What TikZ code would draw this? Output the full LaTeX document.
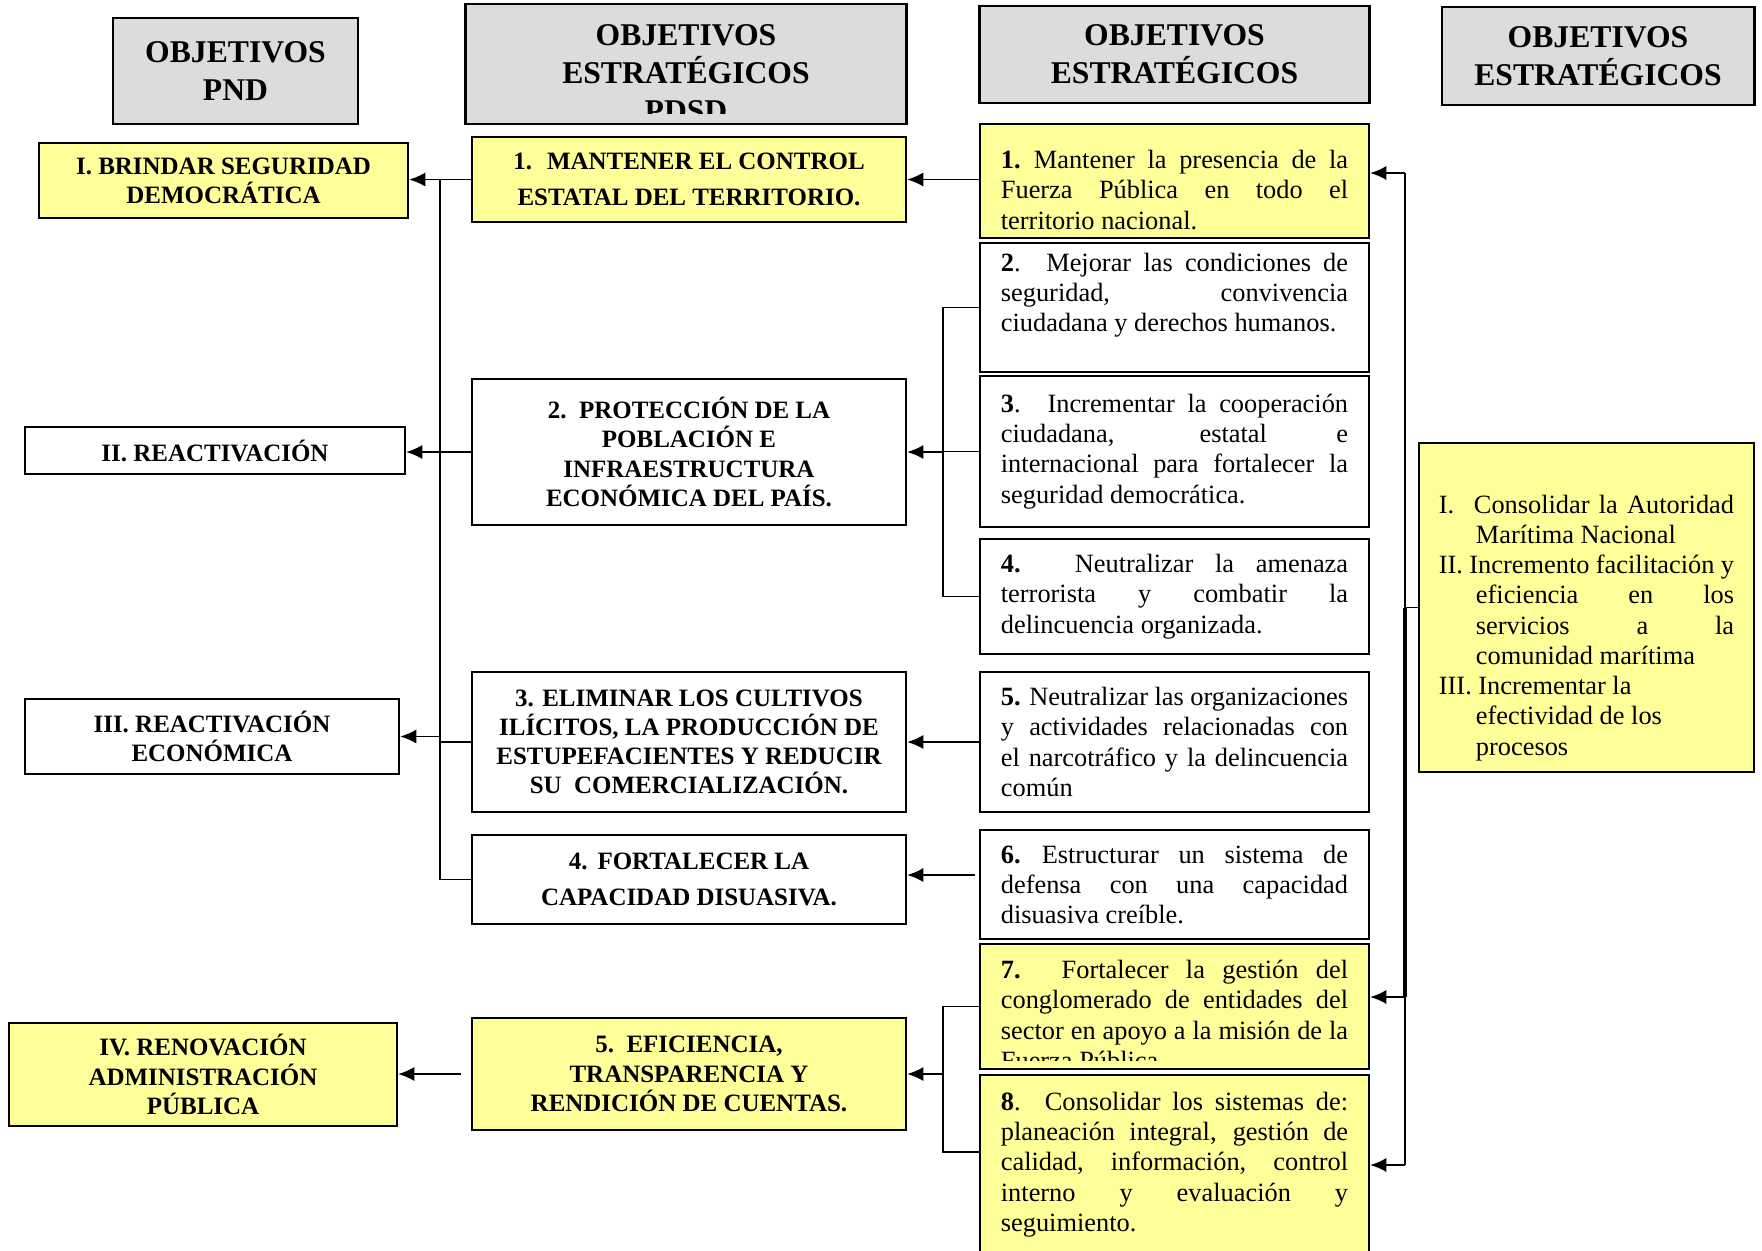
\documentclass[tikz,border=0pt]{standalone}
\usepackage{fontspec}
\setmainfont{Liberation Serif}
\usetikzlibrary{arrows.meta}
\definecolor{amarillo}{HTML}{FFFF99}
\definecolor{gris}{HTML}{DCDCDC}
\setlength{\parindent}{0pt}
\hyphenpenalty=10000
\exhyphenpenalty=10000

\begin{document}
\begin{tikzpicture}[x=0.01cm, y=-0.01cm]
        \tikzstyle{caja}=[draw, line width=0.6pt, inner sep=0pt]
        \tikzstyle{titulo}=[caja, fill=gris, line width=0.8pt, align=center, font=\fontsize{9}{10.8}\selectfont\bfseries]
        \tikzstyle{plan}=[caja, align=center, font=\fontsize{7.1}{8.3}\selectfont\bfseries]
        \tikzstyle{texto}=[caja, text width=3.47cm, inner xsep=0.21cm, minimum width=3.89cm, align=justify, font=\fontsize{7.5}{8.6}\selectfont]
        \tikzstyle{linea}=[line width=0.45pt]
        \tikzstyle{flecha}=[linea, -{Latex[length=4.6pt,width=4pt]}]

        \useasboundingbox (0,0) rectangle (1762,1250);

% encabezados de las cuatro columnas

        \node[titulo, minimum width=2.45cm, minimum height=1.06cm] (hpnd) at (235.5,71) {OBJETIVOS\\PND};
        \node[titulo, minimum width=4.4cm, minimum height=1.2cm] (hpdsd) at (686,64) {};
        \begin{scope}
          \clip (467,5) rectangle (905,113);
          \node[titulo, draw=none, fill=none] (tpdsd) at (686,73) {OBJETIVOS\\ESTRATÉGICOS\\PDSD};
        \end{scope}
        \node[titulo, minimum width=3.89cm, minimum height=0.97cm] (hest) at (1174.5,54.5) {OBJETIVOS\\ESTRATÉGICOS};
        \node[titulo, minimum width=3.12cm, minimum height=0.98cm] (hmar) at (1598,56) {OBJETIVOS\\ESTRATÉGICOS};

        \node[plan, fill=amarillo, minimum width=3.69cm, minimum height=0.75cm] (pnd1) at (223.5,180.5) {I. BRINDAR SEGURIDAD\\DEMOCRÁTICA};
        \node[plan, minimum width=3.8cm, minimum height=0.47cm] (pnd2) at (215,450.5) {II. REACTIVACIÓN};
        \node[plan, minimum width=3.74cm, minimum height=0.75cm] (pnd3) at (212,736.5) {III. REACTIVACIÓN\\ECONÓMICA};
        \node[plan, fill=amarillo, minimum width=3.88cm, minimum height=1.03cm] (pnd4) at (203,1074.5) {IV. RENOVACIÓN\\ADMINISTRACIÓN\\PÚBLICA};

        \node[plan, fill=amarillo, minimum width=4.34cm, minimum height=0.85cm] (pdsd1) at (689,179.5) {1.\hspace{0.6em}MANTENER EL CONTROL\\[2pt]ESTATAL DEL TERRITORIO.};
        \node[plan, minimum width=4.34cm, minimum height=1.46cm] (pdsd2) at (689,452) {2.\hspace{0.5em}PROTECCIÓN DE LA\\POBLACIÓN E\\INFRAESTRUCTURA\\ECONÓMICA DEL PAÍS.};
        \node[plan, minimum width=4.34cm, minimum height=1.4cm] (pdsd3) at (689,742) {3. ELIMINAR LOS CULTIVOS\\ILÍCITOS, LA PRODUCCIÓN DE\\ESTUPEFACIENTES Y REDUCIR\\SU\hspace{0.5em}COMERCIALIZACIÓN.};
        \node[plan, minimum width=4.34cm, minimum height=0.89cm] (pdsd4) at (689,879.5) {4.\hspace{0.4em}FORTALECER LA\\[2pt]CAPACIDAD DISUASIVA.};
        \node[plan, fill=amarillo, minimum width=4.34cm, minimum height=1.12cm] (pdsd5) at (689,1074) {5.\hspace{0.5em}EFICIENCIA,\\TRANSPARENCIA Y\\RENDICIÓN DE CUENTAS.};

        \node[texto, fill=amarillo, minimum height=1.14cm] (est1) at (1174.5,181) {\rule{0pt}{0.36cm}\textbf{1.}\hspace{0.5em}Mantener la presencia de la\linebreak Fuerza Pública en todo el\linebreak territorio nacional.};
        \node[texto, minimum height=1.29cm] (est2) at (1174.5,307.5) {\textbf{2}. Mejorar las condiciones de\linebreak seguridad, convivencia\linebreak ciudadana y derechos humanos.\par\mbox{}};
        \node[texto, minimum height=1.51cm] (est3) at (1174.5,451.5) {\textbf{3}. Incrementar la cooperación\linebreak ciudadana, estatal e\linebreak internacional para fortalecer la\linebreak seguridad democrática.};
        \node[texto, minimum height=1.15cm] (est4) at (1174.5,596.5) {\textbf{4.} Neutralizar la amenaza\linebreak terrorista y combatir la\linebreak delincuencia organizada.};
        \node[texto, minimum height=1.4cm] (est5) at (1174.5,742) {\textbf{5.} Neutralizar las organizaciones\linebreak y actividades relacionadas con\linebreak el narcotráfico y la delincuencia\linebreak común};
        \node[texto, minimum height=1.09cm] (est6) at (1174.5,884.5) {\textbf{6.}\hspace{0.8em}Estructurar un sistema de\linebreak defensa con una capacidad\linebreak disuasiva creíble.};
        \node[texto, fill=amarillo, minimum height=1.25cm] (est7) at (1174.5,1006.5) {};
        \begin{scope}
          \clip (981,945) rectangle (1368,1060);
          \node[texto, draw=none, fill=none] (test7) at (1174.5,1015) {\textbf{7.} Fortalecer la gestión del\linebreak conglomerado de entidades del\linebreak sector en apoyo a la misión de la\linebreak Fuerza Pública};
        \end{scope}
        \node[texto, fill=amarillo, minimum height=1.79cm] (est8) at (1174.5,1164.5) {\textbf{8}. Consolidar los sistemas de:\linebreak planeación integral, gestión de\linebreak calidad, información, control\linebreak interno y evaluación y\linebreak seguimiento.};

        \node[caja, fill=amarillo, text width=2.95cm, inner xsep=0.2cm, minimum width=3.35cm, minimum height=3.29cm, align=justify, font=\fontsize{7.5}{8.6}\selectfont] (mar) at (1586.5,607.5)
          {\hangindent=0.37cm\hangafter=1 \rule{0pt}{0.59cm}\makebox[0.35cm][l]{I.}Consolidar la Autoridad\linebreak Marítima Nacional\par
           \hangindent=0.37cm\hangafter=1 II. Incremento facilitación y\linebreak eficiencia en los\linebreak servicios a la\linebreak \mbox{comunidad marítima}\par
           \hangindent=0.37cm\hangafter=1 III. Incrementar la\\efectividad de los\\procesos\par};

% conectores
        \coordinate (tl) at (440,0);
        \coordinate (tm) at (943,0);
        \draw[flecha] (pdsd1.west) -- (pnd1.east |- pdsd1.west);
        \draw[linea] (tl |- pdsd1.west) -- (tl |- pdsd4.west) -- (pdsd4.west);
        \draw[flecha] (pdsd2.west) -- (pnd2.east |- pdsd2.west);
        \draw[flecha] (tl |- pnd3.east) -- (pnd3.east);
        \draw[linea] (pdsd3.west) -- (tl |- pdsd3.west);
        \coordinate (c5) at (461,1074);
        \draw[flecha] (c5) -- (pnd4.east |- c5);

        \draw[flecha] (est1.west |- pdsd1.east) -- (pdsd1.east);
        \draw[linea] (est2.west) -- (tm |- est2.west) -- (tm |- est4.west) -- (est4.west);
        \draw[linea] (est3.west) -- (tm |- est3.west);
        \draw[flecha] (tm |- pdsd2.east) -- (pdsd2.east);
        \draw[flecha] (est5.west) -- (pdsd3.east);
        \coordinate (c6) at (975,875);
        \draw[flecha] (c6) -- (pdsd4.east |- c6);
        \coordinate (c8) at (980,1152);
        \draw[linea] (est7.west) -- (tm |- est7.west) -- (tm |- c8) -- (c8);
        \draw[flecha] (tm |- pdsd5.east) -- (pdsd5.east);

        \coordinate (r1) at (1405,173);
        \coordinate (r7) at (1405,997);
        \coordinate (r8) at (1405,1165);
        \draw[linea] (r1) -- (r8);
        \draw[line width=1.1pt] (r1 |- mar.west) -- (r7);
        \draw[linea] (mar.west) -- (r1 |- mar.west);
        \draw[flecha] (r1) -- (est1.east |- r1);
        \draw[flecha] (r7) -- (est7.east |- r7);
        \draw[flecha] (r8) -- (est8.east |- r8);

\end{tikzpicture}
\end{document}
